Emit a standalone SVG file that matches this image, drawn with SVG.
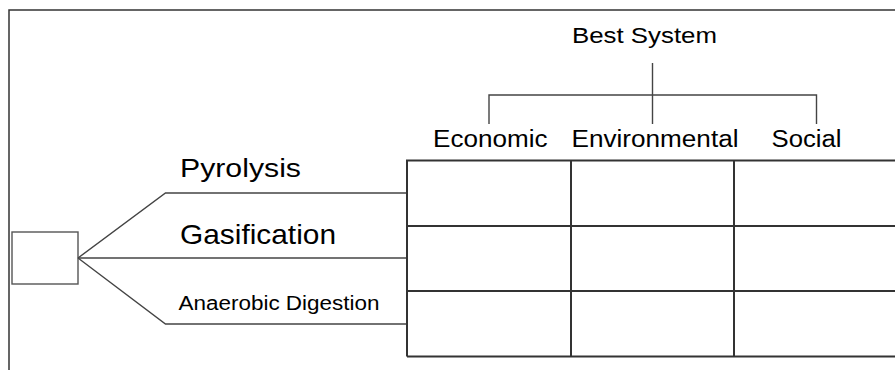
<svg xmlns="http://www.w3.org/2000/svg" width="895" height="370" viewBox="0 0 895 370">
<style>
  .t { font-family: "Liberation Sans", Arial, sans-serif; fill: #000; }
  .ln { stroke: #444; stroke-width: 1.4; fill: none; }
  .grid { stroke: #333; stroke-width: 2; fill: none; }
  .frame { stroke: #333; stroke-width: 1.5; fill: none; }
</style>
<rect width="895" height="370" fill="#fff"/>
<g id="frame">
  <polyline class="frame" points="9,370 9,10 895,10"/>
</g>
<g id="source">
  <rect x="12" y="232" width="66" height="52" fill="#fff" stroke="#555" stroke-width="1.4"/>
</g>
<g id="connectors">
  <polyline class="ln" points="78,258 165.5,193 407,193"/>
  <line class="ln" x1="78" y1="258" x2="407" y2="258" stroke="#222"/>
  <polyline class="ln" points="78,258 165.5,324 407,324"/>
  <line class="ln" x1="652.5" y1="63" x2="652.5" y2="124"/>
  <polyline class="ln" points="489,124 489,95 816.5,95 816.5,124"/>
</g>
<g id="pyrolysis"><text class="t" x="180" y="177" font-size="25.5" textLength="121" lengthAdjust="spacingAndGlyphs">Pyrolysis</text></g>
<g id="gasification"><text class="t" x="180" y="244" font-size="27.5" textLength="156" lengthAdjust="spacingAndGlyphs">Gasification</text></g>
<g id="anaerobic"><text class="t" x="178.5" y="310" font-size="20" textLength="201" lengthAdjust="spacingAndGlyphs">Anaerobic Digestion</text></g>
<g id="best-system"><text class="t" x="572" y="43" font-size="22" textLength="145" lengthAdjust="spacingAndGlyphs">Best System</text></g>
<g id="economic"><text class="t" x="433" y="146.5" font-size="23" textLength="114.5" lengthAdjust="spacingAndGlyphs">Economic</text></g>
<g id="environmental"><text class="t" x="571.5" y="146.5" font-size="23" textLength="167" lengthAdjust="spacingAndGlyphs">Environmental</text></g>
<g id="social"><text class="t" x="771.5" y="146.5" font-size="23" textLength="70" lengthAdjust="spacingAndGlyphs">Social</text></g>
<g id="matrix">
  <polyline class="grid" points="407,356.5 407,160.5 897,160.5"/>
  <line class="grid" x1="407" y1="226" x2="897" y2="226"/>
  <line class="grid" x1="407" y1="291" x2="897" y2="291"/>
  <line class="grid" x1="407" y1="356.5" x2="897" y2="356.5"/>
  <line class="grid" x1="571" y1="160.5" x2="571" y2="356.5"/>
  <line class="grid" x1="734" y1="160.5" x2="734" y2="356.5"/>
</g>
</svg>
